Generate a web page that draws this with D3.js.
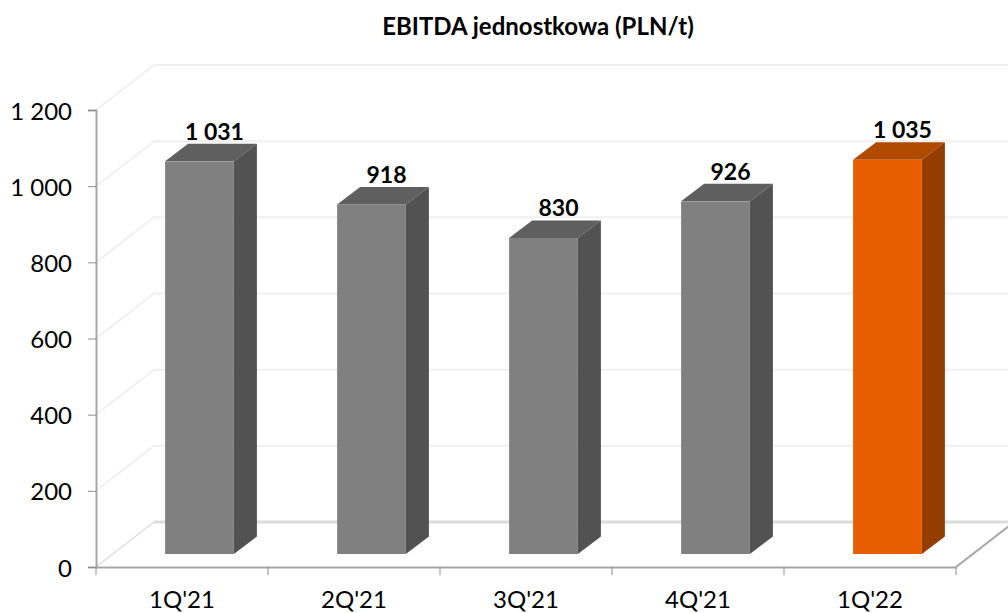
<!DOCTYPE html>
<html>
<head>
<meta charset="utf-8">
<script src="https://cdn.jsdelivr.net/npm/d3@7"></script>
<style>
html, body { margin: 0; padding: 0; background: #fff; overflow: hidden; }
svg { display: block; }
text { font-family: Lato, "Open Sans", sans-serif; fill: #000; }
</style>
</head>
<body>
<svg width="1008" height="613"></svg>
<script>
var categories = ["1Q'21", "2Q'21", "3Q'21", "4Q'21", "1Q'22"];
var values = [1031, 918, 830, 926, 1035];
var value_labels = ["1 031", "918", "830", "926", "1 035"];
var y_ticks = [0, 200, 400, 600, 800, 1000, 1200];
var y_tick_labels = ["0", "200", "400", "600", "800", "1 000", "1 200"];
var highlight = "1Q'22";

var svg = d3.select("svg");

// depth of the floor/wall box and how far the bars sit into it
var wall_dx = 58, wall_dy = -45;
var front_dx = 17.5, front_dy = -13;
var depth_dx = 23, depth_dy = -17.5;

var x_scale = d3.scaleBand()
    .domain(categories)
    .range([96, 956])
    .paddingInner(0.6)
    .paddingOuter(0.3);

var y_scale = d3.scaleLinear()
    .domain([0, 1200])
    .range([567, 110]);

function poly(points) {
    return "M" + points.map(function (p) { return p.join(","); }).join("L") + "Z";
}

// walls
var grid = svg.append("g");
grid.selectAll("path.wall")
    .data(y_ticks.slice(1))
    .enter().append("path")
    .attr("class", "wall")
    .attr("fill", "none")
    .attr("stroke", "#f0f0f0")
    .attr("stroke-width", 2)
    .attr("d", function (d) {
        var y = y_scale(d);
        return "M96," + y + "L" + (96 + wall_dx) + "," + (y + wall_dy) + "L1008," + (y + wall_dy);
    });

// floor
grid.append("path")
    .attr("fill", "none")
    .attr("stroke", "#dedede")
    .attr("stroke-width", 1.5)
    .attr("d", "M96," + y_scale(0) + "L" + (96 + wall_dx) + "," + (y_scale(0) + wall_dy));
grid.append("path")
    .attr("fill", "none")
    .attr("stroke", "#dcdcdc")
    .attr("stroke-width", 3)
    .attr("d", "M" + (96 + wall_dx) + "," + (y_scale(0) + wall_dy) + "H1008");
grid.append("path")
    .attr("fill", "none")
    .attr("stroke", "#a6a6a6")
    .attr("stroke-width", 2)
    .attr("d", "M956," + y_scale(0) + "L" + (956 + wall_dx) + "," + (y_scale(0) + wall_dy));

// axes
var y_axis = svg.append("g")
    .attr("transform", "translate(96,0)")
    .call(d3.axisLeft(y_scale)
        .tickValues(y_ticks)
        .tickSize(8)
        .tickPadding(16)
        .tickFormat(function (d, i) { return y_tick_labels[i]; }));

y_axis.selectAll(".tick text").attr("dy", "0.38em");

var x_ticks = d3.range(categories.length + 1).map(function (i) {
    return 96 + i * (956 - 96) / categories.length;
});

var x_axis = svg.append("g")
    .attr("transform", "translate(0," + y_scale(0) + ")")
    .call(d3.axisBottom(x_scale).tickSize(0).tickPadding(24));

x_axis.selectAll("tick-mark")
    .data(x_ticks)
    .enter().append("line")
    .attr("x1", function (d) { return d; })
    .attr("x2", function (d) { return d; })
    .attr("y1", 0)
    .attr("y2", 8)
    .attr("stroke", "#8c8c8c");

svg.selectAll(".domain")
    .attr("stroke", "#a6a6a6")
    .attr("stroke-width", 2);
svg.selectAll(".tick line").attr("stroke", "#8c8c8c");
svg.selectAll(".tick text")
    .style("font-size", "24px")
    .attr("fill", "#000");

// bars
var bar = svg.append("g").selectAll("g")
    .data(categories)
    .enter().append("g");

function bar_box(d, i) {
    var left = x_scale(d) + front_dx;
    var right = left + x_scale.bandwidth();
    var bottom = y_scale(0) + front_dy;
    var top = y_scale(values[i]) + front_dy;
    return { left: left, right: right, bottom: bottom, top: top };
}

// top
bar.append("path")
    .attr("fill", function (d) { return d == highlight ? "#b04a00" : "#5f5f5f"; })
    .attr("d", function (d, i) {
        var b = bar_box(d, i);
        return poly([[b.left, b.top], [b.left + depth_dx, b.top + depth_dy],
            [b.right + depth_dx, b.top + depth_dy], [b.right, b.top]]);
    });

// side
bar.append("path")
    .attr("fill", function (d) { return d == highlight ? "#933e00" : "#525252"; })
    .attr("d", function (d, i) {
        var b = bar_box(d, i);
        return poly([[b.right, b.top], [b.right + depth_dx, b.top + depth_dy],
            [b.right + depth_dx, b.bottom + depth_dy], [b.right, b.bottom]]);
    });

// front
bar.append("rect")
    .attr("fill", function (d) { return d == highlight ? "#e85d00" : "#808080"; })
    .attr("x", function (d, i) { return bar_box(d, i).left; })
    .attr("y", function (d, i) { return bar_box(d, i).top; })
    .attr("width", x_scale.bandwidth())
    .attr("height", function (d, i) { var b = bar_box(d, i); return b.bottom - b.top; });

// value labels
bar.append("text")
    .attr("text-anchor", "middle")
    .attr("x", function (d, i) { return bar_box(d, i).left + x_scale.bandwidth() / 2 + 15; })
    .attr("y", function (d, i) { return bar_box(d, i).top + depth_dy - 4; })
    .style("font-size", "23px")
    .style("font-weight", "700")
    .text(function (d, i) { return value_labels[i]; });

svg.append("text")
    .attr("text-anchor", "middle")
    .attr("x", 538)
    .attr("y", 35)
    .style("font-size", "24px")
    .style("font-weight", "700")
    .text("EBITDA jednostkowa (PLN/t)");
</script>
</body>
</html>
